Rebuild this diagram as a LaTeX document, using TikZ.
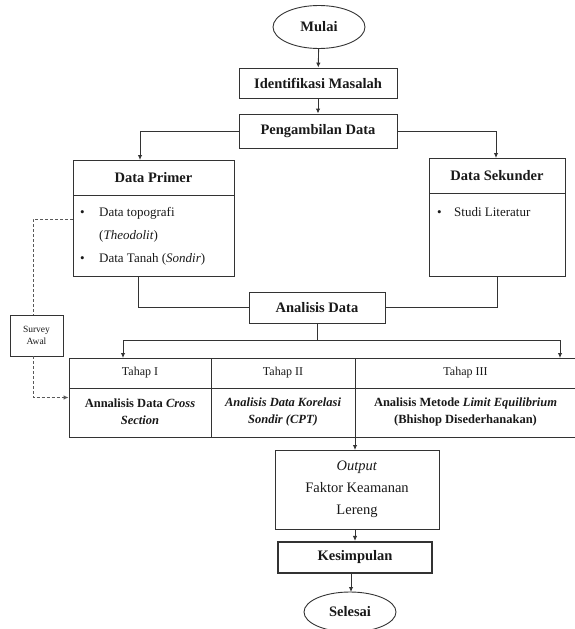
\documentclass[tikz,border=0pt]{standalone}
\usepackage{fontspec}
\setmainfont{Liberation Serif}
\usetikzlibrary{shapes.geometric,arrows.meta,positioning}
\tikzset{
  ln/.style={draw=black!80, line width=0.9pt},
  arr/.style={ln, -{Latex[length=5pt,width=4.5pt]}},
  dsh/.style={draw=black!65, line width=0.9pt, dash pattern=on 3pt off 2pt},
  box/.style={ln, rectangle, inner sep=0pt, align=center, text=black!90},
  term/.style={ln, ellipse, inner sep=0pt, text=black!90},
  big/.style={font=\fontsize{14.5}{17}\selectfont\bfseries},
  med/.style={font=\fontsize{13}{23}\selectfont},
  cell/.style={font=\fontsize{12.5}{17}\selectfont\bfseries, align=center, text=black!90},
  small/.style={font=\fontsize{12}{14}\selectfont, text=black!90},
}
\begin{document}
\begin{tikzpicture}[x=1pt,y=-1pt]
\useasboundingbox (0,0) rectangle (574,629);
% terminals and boxes
\node[term, big, minimum width=92, minimum height=43] (mulai) at (319,27) {Mulai};
\node[box, big, minimum width=158, minimum height=30] (ident) at (318,83) {Identifikasi Masalah};
\node[box, big, minimum width=158, minimum height=34] (ambil) at (318,131) {Pengambilan Data};
% Data Primer
\node[box, minimum width=161, minimum height=116] (primer) at (153.5,218) {};
\coordinate (pdl) at (73,195); \coordinate (pdr) at (234,195);
\draw[ln] (pdl) -- (pdr);
\node[big, text=black!90] (primerh) at (153.5,178) {Data Primer};
\node[med, text=black!90, anchor=north west, align=left, inner sep=0pt] (primerb) at (80,207)
  {\makebox[19pt][l]{\textbullet}Data topografi\\
   \makebox[19pt][l]{}(\textit{Theodolit})\\
   \makebox[19pt][l]{\textbullet}Data Tanah (\textit{Sondir})};
% Data Sekunder
\node[box, minimum width=136, minimum height=118] (sekunder) at (497,217) {};
\coordinate (sdl) at (429,193); \coordinate (sdr) at (565,193);
\draw[ln] (sdl) -- (sdr);
\node[big, text=black!90] (sekunderh) at (497,176) {Data Sekunder};
\node[med, text=black!90, anchor=base west, align=left, inner sep=0pt] (sekunderb) at (437,216)
  {\makebox[17pt][l]{\textbullet}Studi Literatur};
% Analisis Data
\node[box, big, minimum width=136, minimum height=31] (analisis) at (317,307.5) {Analisis Data};
% Survey Awal
\node[box, font=\fontsize{9.5}{12}\selectfont, minimum width=53, minimum height=41] (survey) at (36.5,335.5) {Survey\\Awal};
% table
\node[box, minimum width=142, minimum height=79] (t1) at (140,397.5) {};
\node[box, minimum width=144, minimum height=79] (t2) at (283,397.5) {};
\node[box, minimum width=221, minimum height=79] (t3) at (465.5,397.5) {};
\coordinate (rl) at (69,388); \coordinate (rr) at (576,388);
\draw[ln] (rl) -- (rr);
\node[small] (t1h) at (140,373) {Tahap I};
\node[small] (t2h) at (283,373) {Tahap II};
\node[small] (t3h) at (465.5,373) {Tahap III};
\node[cell] (t1b) at (140,412) {Annalisis Data \textit{Cross}\\\textit{Section}};
\node[cell] (t2b) at (283,412) {\textit{Analisis Data Korelasi}\\\textit{Sondir (CPT)}};
\node[cell] (t3b) at (465.5,412) {Analisis Metode \textit{Limit Equilibrium}\\(Bhishop Disederhanakan)};
% output etc
\node[box, font=\fontsize{14.5}{22}\selectfont, minimum width=164, minimum height=79] (output) at (357,489.5) {\textit{Output}\\Faktor Keamanan\\Lereng};
\node[box, big, line width=2.2pt, minimum width=154, minimum height=31] (kesimpulan) at (355,557.5) {Kesimpulan};
\node[term, big, minimum width=92, minimum height=40] (selesai) at (350,612) {Selesai};
% connectors
\draw[arr] (mulai) -- (ident);
\draw[arr] (ident) -- (ambil);
\coordinate (pin) at (140,160);
\coordinate (sin) at (496,158);
\draw[arr] (ambil.west) -| (pin);
\draw[arr] (ambil.east) -| (sin);
\coordinate (pout) at (138,276);
\coordinate (sout) at (497,276);
\draw[ln] (pout) |- (analisis.west);
\draw[ln] (sout) |- (analisis.east);
\coordinate (j) at (317,340);
\coordinate (ta) at (123,358);
\coordinate (tb) at (560,358);
\draw[ln] (analisis.south) -- (j);
\draw[arr] (j) -| (ta);
\draw[arr] (j) -| (tb);
% dashed survey path
\coordinate (pd) at (73,219);
\coordinate (sv1) at (33,315);
\coordinate (sv2) at (33,356);
\draw[dsh] (pd) -| (sv1);
\draw[dsh, -{Latex[length=5pt,width=4.5pt]}] (sv2) |- (t1.west);
% to output
\coordinate (tout) at (355,437);
\coordinate (oin) at (355,450);
\draw[arr] (tout) -- (oin);
\draw[arr] (output.south -| kesimpulan.north) -- (kesimpulan.north);
\coordinate (kout) at (351,573);
\coordinate (sin2) at (351,592);
\draw[arr] (kout) -- (sin2);
\end{tikzpicture}
\end{document}
